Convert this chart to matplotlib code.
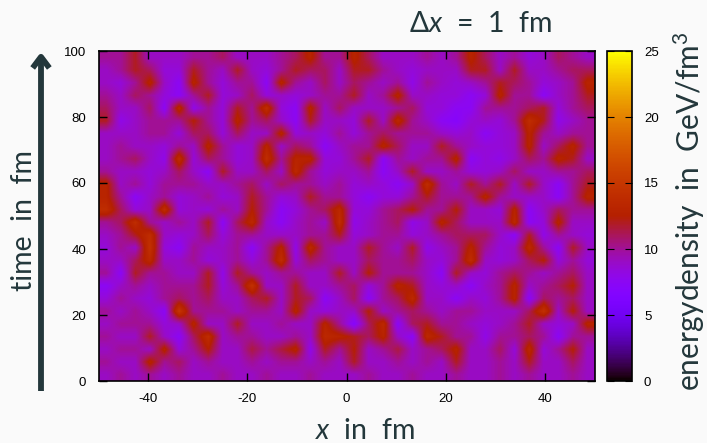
import numpy as np
import matplotlib
matplotlib.use('Agg')
import matplotlib.pyplot as plt
from matplotlib.patches import FancyArrowPatch

plt.rcParams['font.family'] = ['Lato', 'DejaVu Sans']
plt.rcParams['mathtext.fontset'] = 'custom'
plt.rcParams['mathtext.rm'] = 'Lato'
plt.rcParams['mathtext.it'] = 'Lato:italic'
plt.rcParams['axes.unicode_minus'] = False

BG = '#fafafa'
TEXT = '#23373b'

x_ticks = [-40, -20, 0, 20, 40]
t_ticks = [0, 20, 40, 60, 80, 100]
cbar_ticks = [0, 5, 10, 15, 20, 25]

# energy density, rows from t=100 down to t=0, columns x=-50..49 in steps of 3
energy = [
    [10, 10, 12, 9, 9, 9, 10, 10, 11, 9, 9, 9, 10, 11, 13, 10, 10, 13, 11, 9, 9, 9, 10, 9, 10, 13, 11, 9, 10, 8.5, 9, 11, 10, 9],
    [9, 10, 12, 11, 8.5, 8.5, 12, 10, 9, 12, 9, 8.5, 10, 12, 11, 11, 9, 12, 12, 10, 9, 8.5, 9, 9, 9, 12, 12, 9, 12, 9, 9, 10, 11, 11],
    [9, 8.5, 10, 13, 9, 7.5, 13, 10, 8.5, 10, 10, 7.5, 13, 10, 9, 11, 9, 11, 10, 9, 10, 8, 10, 9, 8.5, 9, 10, 12, 11, 10, 8.5, 9, 10, 13],
    [10, 9, 11, 10, 8.5, 7.5, 10, 12, 8.5, 9, 11, 8.5, 9, 8.5, 9, 10, 10, 12, 9, 10, 13, 9, 9, 8.5, 8.5, 7.5, 8.5, 13, 10, 10, 7.5, 9, 10, 12],
    [11, 9, 9, 11, 7.5, 13.5, 8, 10, 8.5, 12, 10, 14, 8.5, 7.5, 13, 9, 11, 9, 9, 9, 10, 11, 8.5, 8.5, 7.5, 7.5, 10, 10, 10, 11, 12, 8.5, 10, 11],
    [12, 8, 9, 10, 10, 10, 12.5, 10, 8.5, 13, 10, 11, 9, 7.5, 12, 9, 9, 8.5, 12, 9, 13.5, 10, 9, 7.5, 7, 8.5, 9, 8.5, 10, 14, 12, 8, 9, 10],
    [9, 9, 9, 10, 10, 8.5, 11, 11, 8.5, 11, 9, 9, 13, 8.5, 9, 8.5, 10, 8.5, 10, 11, 10, 10, 10, 9, 8.5, 9, 7.5, 8.5, 9, 13, 10, 9, 10, 10],
    [9, 10, 9, 9, 8.5, 10, 9, 13, 10, 8.5, 9, 13, 9, 11, 10, 7.5, 9, 10, 10, 13, 11, 9, 9, 12, 10, 9, 8.5, 8.5, 9, 13, 9, 11, 13, 10],
    [9, 10, 11, 9, 8, 14, 8.5, 11, 10, 8.5, 9, 14, 10, 13, 13, 8.5, 8.5, 10, 12, 7.5, 10, 9, 10, 10, 13, 7.5, 8.5, 8, 9, 11, 10, 13, 12, 9],
    [10, 9, 9, 8.5, 9, 11, 9, 7.5, 12, 9, 9, 11, 9, 13.5, 10, 8.5, 9, 9, 10, 7.5, 9, 12, 9, 9, 10, 8.5, 8.5, 9, 11, 9, 9, 10, 10, 11],
    [13, 9, 10, 8.5, 10, 10, 10, 9, 9, 10, 11, 9, 11, 10, 10, 9, 10, 8.5, 9, 8.5, 7.5, 9, 14, 10, 9, 12, 10, 12, 9, 12, 9, 7.5, 10, 12],
    [13, 10, 7.5, 9, 10, 8.5, 9, 10, 8.5, 9, 12, 10, 8.5, 9, 12, 10, 10, 8.5, 7.5, 8.5, 8.5, 10, 12, 10, 10, 10, 13, 10, 9, 9, 9, 7.5, 10, 13],
    [14, 11, 8.5, 9, 14, 8.5, 9, 8.5, 10, 9, 12.5, 10, 7.5, 8.5, 10, 11, 13.5, 8.5, 8.5, 10, 11, 12.5, 10, 10, 12.5, 9, 9, 8.5, 13, 7.5, 9, 11, 10, 10],
    [10, 11, 14, 10, 9, 10, 9, 12, 7.5, 11, 13.5, 9, 7.5, 9, 10, 9, 14, 8, 9, 10, 11, 8, 9, 13, 11, 9, 9, 9, 13.5, 7.5, 8.5, 13, 9, 9],
    [9, 10, 12, 14, 9, 8.5, 9, 11, 8.5, 10, 10, 9, 9, 9, 10, 10, 12, 8.5, 9, 10, 10, 8.5, 9, 10, 11, 11, 11, 9, 7.5, 12, 8, 10, 9, 8.5],
    [8.5, 10, 9, 14.5, 8.5, 7.5, 10, 9, 9, 10, 7.5, 10, 13, 8, 13.5, 10, 9, 9, 12, 10, 9, 12, 8, 9, 10, 13, 10, 8.5, 9, 13.5, 10, 7.5, 12, 9],
    [9, 9, 11, 13.5, 9, 9, 10, 8.5, 9, 10, 8.5, 10, 14, 8.5, 11, 10, 9, 9, 11, 10, 10, 11, 9, 8.5, 10, 14, 9, 8.5, 9, 11, 12.5, 8.5, 10, 8.5],
    [10, 7.5, 12, 10, 10, 9, 9, 12, 8, 12, 10, 9, 10, 10, 9, 9, 12, 9, 12.5, 10, 10, 10, 9, 7.5, 12, 9, 8.5, 10, 11, 10, 9, 10, 11, 9],
    [7.5, 9, 10, 9, 10, 10, 10, 12, 8.5, 10, 14.5, 9, 9, 12, 9, 9, 10, 11, 8.5, 10, 13, 12, 9, 8.5, 9, 7.5, 9, 10, 13, 9, 10, 11, 12.5, 9],
    [8.5, 10, 9, 8.5, 10, 11, 10, 11, 9, 9, 11, 12, 9, 12, 11, 7.5, 9, 11, 7.5, 10, 11, 13.5, 9, 9, 7.5, 9, 8.5, 10, 13, 7.5, 11, 10, 11, 9],
    [10, 9, 10, 9, 7.5, 15, 10, 10, 10, 9, 10, 10, 9, 13, 9, 8.5, 9, 9, 12.5, 9, 10, 11, 10, 9, 10, 10, 9, 9, 9, 11, 14.5, 9, 12.5, 9],
    [9, 10, 10, 10, 8.5, 9, 13, 9, 9, 12, 9, 9, 10, 9, 9, 13, 10, 7, 11, 13.5, 7.5, 11, 12, 10, 10, 9, 8.5, 9, 10, 12, 9, 8.5, 9, 13],
    [10, 9, 9, 12, 9, 7.5, 11, 14, 9, 10, 10, 9, 9, 10, 9, 13.5, 13, 12, 11, 13, 9, 7.5, 13.5, 12, 10, 10, 8, 10, 10, 11, 10, 7.5, 10, 10],
    [9, 10, 10, 9, 13, 8.5, 10, 12.5, 9, 9, 11.5, 10, 11.5, 13, 8, 12, 10, 12.5, 9, 10, 11.5, 9, 10, 11, 13, 9, 9, 11, 8.5, 13.5, 8.5, 10, 12.5, 9],
    [10, 9, 9, 13, 10, 11, 9, 10, 9, 9, 10, 9, 10, 10, 9, 10, 9, 12, 9, 9, 10, 9, 10, 9, 12, 9, 9, 10, 9, 12, 9, 9, 11, 9],
    [9, 10, 9, 10, 9, 10, 9, 9, 10, 9, 9, 10, 9, 9, 10, 9, 9, 9, 10, 9, 9, 10, 9, 9, 10, 9, 9, 10, 9, 10, 9, 9, 10, 9],
]

W, H = 707, 443
fig = plt.figure(figsize=(W / 100, H / 100), dpi=100, facecolor=BG)


def box(x0, y0, x1, y1):
    return [x0 / W, 1 - y1 / H, (x1 - x0) / W, (y1 - y0) / H]


ax = fig.add_axes(box(98.5, 51, 594.5, 381))
im = ax.imshow(np.array(energy), extent=[-50, 50, 0, 100], aspect='auto', cmap='gnuplot',
               vmin=0, vmax=25, interpolation='bilinear')
ax.set_xlim(-50, 50)
ax.set_ylim(0, 100)
ax.set_xticks(x_ticks)
ax.set_yticks(t_ticks)
ax.tick_params(direction='in', length=6, width=1, top=True, right=True, labelsize=9.5, pad=9,
               labelfontfamily='Liberation Sans')
for s in ax.spines.values():
    s.set_linewidth(1.2)

cax = fig.add_axes(box(606.5, 51, 631.5, 381))
cb = fig.colorbar(im, cax=cax, ticks=cbar_ticks)
cb.ax.tick_params(direction='in', length=5, width=0.8, left=True, right=True, labelsize=9.5, pad=9,
                  labelfontfamily='Liberation Sans')
cb.outline.set_linewidth(1.2)


def label(x, y, s, size, rot=0):
    fig.text(x / W, 1 - y / H, s, color=TEXT, fontsize=size, rotation=rot, rotation_mode='anchor',
             ha='center', va='baseline')


label(480, 32, r'$\Delta x$  =  1  fm', 20.5)
label(365, 439, r'$x$  in  fm', 20.5)
label(32, 220.5, 'time  in  fm', 20.5, 90)
label(700, 211, r'energydensity  in  GeV/fm$^3$', 21.5, 90)

# time arrow on the left
fig.add_artist(FancyArrowPatch(
    (41 / W, 1 - 391 / H), (41 / W, 1 - 52 / H), transform=fig.transFigure,
    arrowstyle='->,head_length=8,head_width=6', color=TEXT, lw=4.2, shrinkA=0, shrinkB=0,
    capstyle='butt', joinstyle='round'))

plt.savefig('out.png', dpi=100, facecolor=BG)
